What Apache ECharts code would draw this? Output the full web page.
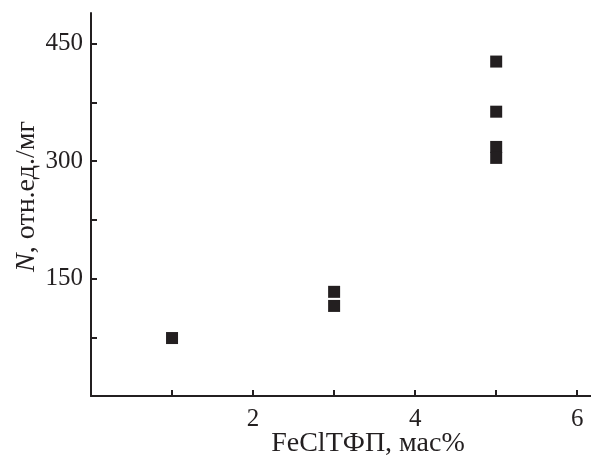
<!DOCTYPE html>
<html>
<head>
<meta charset="utf-8">
<script src="https://cdn.jsdelivr.net/npm/echarts@6/dist/echarts.min.js"></script>
<style>
  html, body { margin: 0; padding: 0; background: #fff; }
  #container { width: 591px; height: 460px; }
</style>
</head>
<body>
<div id="container"></div>
<script>
var dom = document.getElementById("container");
var myChart = echarts.init(dom, null, { renderer: "canvas" });

// FeClTФП content (mass %) vs N
var xValues = [1, 3, 3, 5, 5, 5, 5];
var yValues = [74, 133, 115, 427, 363, 318, 304];

var xTicks = [1, 2, 3, 4, 5, 6];
var xTickLabels = [2, 4, 6];
var yTicks = [75, 150, 225, 300, 375, 450];
var yTickLabels = [150, 300, 450];

var ink = "#231f20";
var font = "Liberation Serif";

var points = xValues.map(function (x, i) { return [x, yValues[i]]; });

var option = {
    animation: false,
    grid: {
        left: 91,
        right: 0,
        top: 13,
        bottom: 64,
        outerBoundsMode: "none"
    },
    xAxis: {
        type: "value",
        min: 0,
        max: 6.17,
        name: "FeClTФП, мас%",
        nameLocation: "middle",
        nameGap: 34,
        nameMoveOverlap: false,
        nameTextStyle: {
            fontFamily: font,
            fontSize: 28,
            color: ink,
            padding: [0, 0, 0, 54]
        },
        axisLine: { onZero: false, lineStyle: { color: ink, width: 2 } },
        axisTick: {
            inside: true,
            length: 6,
            customValues: xTicks,
            lineStyle: { color: ink, width: 2 }
        },
        axisLabel: {
            customValues: xTickLabels,
            margin: 11,
            fontFamily: font,
            fontSize: 25,
            color: ink
        },
        splitLine: { show: false }
    },
    yAxis: {
        type: "value",
        min: 0,
        max: 489,
        name: "{i|N}, отн.ед./мг",
        nameLocation: "middle",
        nameGap: 50,
        nameMoveOverlap: false,
        nameTextStyle: {
            fontFamily: font,
            fontSize: 28,
            color: ink,
            padding: [0, 0, 0, 16],
            rich: {
                i: { fontFamily: font, fontSize: 28, fontStyle: "italic", color: ink }
            }
        },
        axisLine: { onZero: false, lineStyle: { color: ink, width: 2 } },
        axisTick: {
            inside: true,
            length: 6,
            customValues: yTicks,
            lineStyle: { color: ink, width: 2 }
        },
        axisLabel: {
            customValues: yTickLabels,
            margin: 8,
            fontFamily: font,
            fontSize: 25,
            color: ink
        },
        splitLine: { show: false }
    },
    series: [
        {
            type: "scatter",
            symbol: "rect",
            symbolSize: 12,
            itemStyle: { color: ink, opacity: 1 },
            data: points
        }
    ]
};

myChart.setOption(option);
window.addEventListener("resize", myChart.resize);
</script>
</body>
</html>
